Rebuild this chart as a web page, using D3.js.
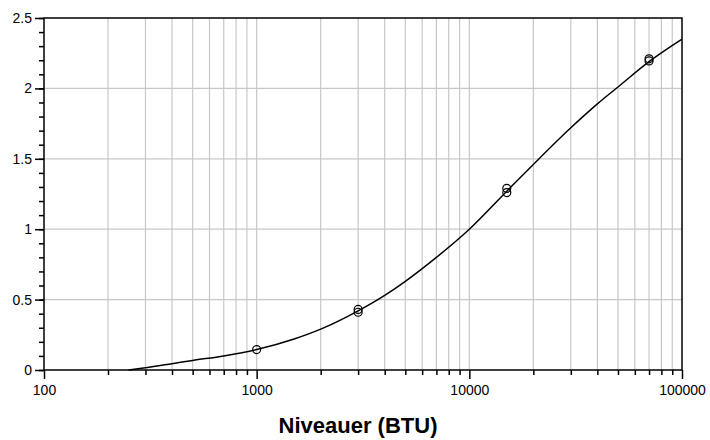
<!DOCTYPE html>
<html>
<head>
<meta charset="utf-8">
<script src="https://cdn.jsdelivr.net/npm/d3@7"></script>
<style>
  body { margin: 0; background: #fff; }
  text { font-family: "Liberation Sans", Arial, sans-serif; }
</style>
</head>
<body>
<div id="chart"></div>
<script>
// Fitted curve
const curveX = [250, 300, 400, 500, 700, 1000, 1500, 2000, 3000, 4000, 5000, 7000, 10000, 15000, 20000, 30000, 40000, 50000, 70000, 100000];
const curveY = [0, 0.016, 0.045, 0.068, 0.1, 0.145, 0.22, 0.29, 0.42, 0.53, 0.63, 0.8, 1.0, 1.27, 1.46, 1.72, 1.89, 2.01, 2.19, 2.35];

// Measured points
const pointX = [1000, 3000, 3000, 15000, 15000, 70000, 70000];
const pointY = [0.145, 0.41, 0.43, 1.26, 1.29, 2.195, 2.21];

const xMajor = [100, 1000, 10000, 100000];
const yMajor = [0, 0.5, 1, 1.5, 2, 2.5];
const xTitle = "Niveauer (BTU)";

const margin = {top: 18, right: 28, bottom: 70, left: 44};
const W = 710, H = 440;
const width = W - margin.left - margin.right;
const height = H - margin.top - margin.bottom;

const svg = d3.select("#chart")
  .append("svg")
  .attr("width", W)
  .attr("height", H);

const g = svg.append("g")
  .attr("transform", `translate(${margin.left},${margin.top})`);

const x = d3.scaleLog().domain([100, 100000]).range([0, width]);
const y = d3.scaleLinear().domain([0, 2.5]).range([height, 0]);

// minor log ticks
const xMinor = [];
for (let d = 100; d < 100000; d *= 10) {
  for (let k = 2; k <= 9; k++) xMinor.push(d * k);
}
const yMinor = d3.range(0, 2.51, 0.1).map(v => +v.toFixed(1));

// grid
g.append("g")
  .selectAll("line")
  .data(xMinor.concat(xMajor.slice(1, -1)))
  .join("line")
  .attr("x1", d => x(d)).attr("x2", d => x(d))
  .attr("y1", 0).attr("y2", height)
  .attr("stroke", "#c8c8c8").attr("stroke-width", 1.2);

g.append("g")
  .selectAll("line")
  .data(yMajor.slice(1, -1))
  .join("line")
  .attr("x1", 0).attr("x2", width)
  .attr("y1", d => y(d)).attr("y2", d => y(d))
  .attr("stroke", "#c8c8c8").attr("stroke-width", 1.2);

// frame
g.append("rect")
  .attr("width", width).attr("height", height)
  .attr("fill", "none").attr("stroke", "#000").attr("stroke-width", 1.5);

// x axis
const xAxis = g.append("g").attr("transform", `translate(0,${height})`);
xAxis.call(d3.axisBottom(x).tickValues(xMinor).tickSize(5).tickFormat(""))
  .call(a => a.select(".domain").remove());
const xAxisMaj = g.append("g").attr("transform", `translate(0,${height})`);
xAxisMaj.call(d3.axisBottom(x).tickValues(xMajor).tickSize(9).tickPadding(6).tickFormat(d3.format("d")))
  .call(a => a.select(".domain").remove());
xAxisMaj.selectAll("text").attr("font-size", 14).attr("fill", "#000")
  .attr("font-family", "'Liberation Sans', Arial, sans-serif");

// y axis
const yAxis = g.append("g");
yAxis.call(d3.axisLeft(y).tickValues(yMinor).tickSize(5).tickFormat(""))
  .call(a => a.select(".domain").remove());
const yAxisMaj = g.append("g");
yAxisMaj.call(d3.axisLeft(y).tickValues(yMajor).tickSize(9).tickPadding(3).tickFormat(d => d))
  .call(a => a.select(".domain").remove());
yAxisMaj.selectAll("text").attr("font-size", 14).attr("fill", "#000")
  .attr("font-family", "'Liberation Sans', Arial, sans-serif");

g.selectAll(".tick line").attr("stroke", "#000").attr("stroke-width", 1.5);

// curve
const line = d3.line()
  .x(d => x(d[0]))
  .y(d => y(d[1]))
  .curve(d3.curveMonotoneX);

g.append("path")
  .datum(curveX.map((v, i) => [v, curveY[i]]))
  .attr("d", line)
  .attr("fill", "none")
  .attr("stroke", "#000")
  .attr("stroke-width", 1.5);

// points
g.append("g")
  .selectAll("circle")
  .data(pointX.map((v, i) => [v, pointY[i]]))
  .join("circle")
  .attr("cx", d => x(d[0]))
  .attr("cy", d => y(d[1]))
  .attr("r", 4)
  .attr("fill", "none")
  .attr("stroke", "#000")
  .attr("stroke-width", 1.2);

// title
svg.append("text")
  .attr("x", 358)
  .attr("y", 433)
  .attr("text-anchor", "middle")
  .attr("font-size", 22)
  .attr("font-weight", "bold")
  .text(xTitle);
</script>
</body>
</html>
